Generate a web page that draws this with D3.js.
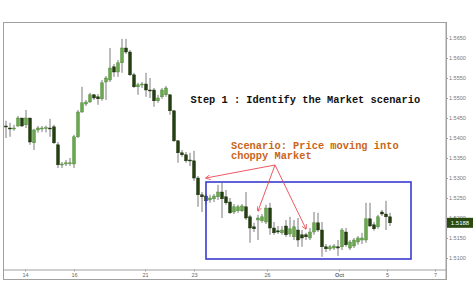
<!DOCTYPE html>
<html>
<head>
<meta charset="utf-8">
<script src="https://cdn.jsdelivr.net/npm/d3@7"></script>
<style>
  body { margin: 0; background: #fff; }
</style>
</head>
<body>
<div id="chart"></div>
<script>
const width = 474;
const height = 284;

// 4h candles
const opens = [1.5430,1.5425,1.5423,1.5430,1.5450,1.5433,1.5450,1.5388,1.5420,1.5423,1.5424,1.5425,1.5428,1.5383,1.5333,1.5335,1.5336,1.5335,1.5403,1.5465,
  1.5485,1.5490,1.5508,1.5503,1.5498,1.5540,1.5545,1.5578,1.5565,1.5588,1.5625,1.5615,1.5558,1.5528,1.5533,1.5535,1.5520,1.5520,1.5493,1.5503,
  1.5508,1.5508,1.5468,1.5393,1.5363,1.5358,1.5345,1.5343,1.5300,1.5258,1.5255,1.5245,1.5248,1.5253,1.5265,1.5253,1.5240,1.5215,1.5218,1.5218,
  1.5228,1.5203,1.5178,1.5195,1.5193,1.5190,1.5225,1.5175,1.5168,1.5163,1.5180,1.5160,1.5153,1.5170,1.5158,1.5158,1.5150,1.5165,1.5188,1.5170,
  1.5128,1.5123,1.5125,1.5128,1.5128,1.5165,1.5125,1.5130,1.5140,1.5145,1.5145,1.5198,1.5183,1.5178,1.5215,1.5210,1.5203];
const highs = [1.5443,1.5438,1.5433,1.5455,1.5448,1.5470,1.5448,1.5423,1.5430,1.5430,1.5431,1.5448,1.5433,1.5390,1.5340,1.5345,1.5350,1.5408,1.5470,1.5528,
  1.5495,1.5513,1.5510,1.5510,1.5545,1.5555,1.5625,1.5585,1.5595,1.5648,1.5648,1.5620,1.5563,1.5538,1.5540,1.5563,1.5550,1.5525,1.5508,1.5525,
  1.5530,1.5510,1.5470,1.5395,1.5370,1.5365,1.5363,1.5368,1.5305,1.5265,1.5260,1.5258,1.5260,1.5283,1.5288,1.5270,1.5250,1.5235,1.5233,1.5235,
  1.5265,1.5208,1.5188,1.5208,1.5210,1.5233,1.5238,1.5190,1.5180,1.5180,1.5195,1.5203,1.5195,1.5200,1.5170,1.5163,1.5175,1.5215,1.5213,1.5190,
  1.5135,1.5133,1.5135,1.5145,1.5175,1.5175,1.5145,1.5150,1.5155,1.5163,1.5238,1.5238,1.5190,1.5208,1.5220,1.5243,1.5213];
const lows = [1.5400,1.5403,1.5418,1.5428,1.5428,1.5425,1.5383,1.5370,1.5413,1.5415,1.5414,1.5403,1.5385,1.5325,1.5325,1.5330,1.5330,1.5325,1.5400,1.5463,
  1.5480,1.5488,1.5495,1.5483,1.5493,1.5495,1.5540,1.5553,1.5553,1.5563,1.5610,1.5555,1.5525,1.5508,1.5525,1.5503,1.5500,1.5478,1.5488,1.5498,
  1.5503,1.5458,1.5390,1.5338,1.5353,1.5338,1.5330,1.5293,1.5228,1.5215,1.5235,1.5238,1.5240,1.5245,1.5200,1.5233,1.5210,1.5210,1.5213,1.5215,
  1.5195,1.5138,1.5165,1.5145,1.5188,1.5185,1.5158,1.5158,1.5160,1.5158,1.5153,1.5153,1.5145,1.5128,1.5128,1.5145,1.5145,1.5158,1.5165,1.5103,
  1.5115,1.5118,1.5120,1.5105,1.5120,1.5128,1.5120,1.5125,1.5133,1.5135,1.5138,1.5178,1.5168,1.5173,1.5205,1.5170,1.5180];
const closes = [1.5428,1.5423,1.5425,1.5450,1.5430,1.5450,1.5390,1.5420,1.5425,1.5425,1.5426,1.5423,1.5388,1.5333,1.5335,1.5338,1.5338,1.5403,1.5465,1.5488,
  1.5490,1.5508,1.5500,1.5498,1.5538,1.5550,1.5575,1.5565,1.5588,1.5625,1.5615,1.5558,1.5528,1.5533,1.5535,1.5520,1.5518,1.5493,1.5500,1.5520,
  1.5525,1.5468,1.5393,1.5363,1.5358,1.5343,1.5343,1.5300,1.5258,1.5253,1.5243,1.5250,1.5255,1.5265,1.5248,1.5238,1.5213,1.5228,1.5228,1.5230,
  1.5200,1.5175,1.5173,1.5200,1.5203,1.5225,1.5175,1.5163,1.5165,1.5170,1.5158,1.5173,1.5178,1.5145,1.5150,1.5153,1.5165,1.5188,1.5170,1.5128,
  1.5123,1.5128,1.5130,1.5125,1.5170,1.5133,1.5140,1.5145,1.5150,1.5150,1.5198,1.5180,1.5173,1.5203,1.5210,1.5203,1.5188];

// x axis: candle index where each day label sits
const dayTicks = [4.75, 17, 34.75, 47, 65.25, 83.25, 95.25, 107.25];
const dayLabels = ["14", "16", "21", "23", "26", "Oct", "5", "7"];
const priceTicks = [1.5100, 1.5150, 1.5200, 1.5250, 1.5300, 1.5350, 1.5400, 1.5450, 1.5500, 1.5550, 1.5600, 1.5650];
const lastPrice = 1.5188;

// annotations (candle index, price)
const boxIdx = [50, 101.25];
const boxPrice = [1.5290, 1.50975];
const arrowFrom = [67.25, 1.53325];
const arrowTo = [[50, 1.5300], [63, 1.52175], [75, 1.51725]];
const scenarioLines = ["Scenario: Price moving into", "choppy Market"];

const candles = opens.map((o, i) => ({ i: i, o: o, h: highs[i], l: lows[i], c: closes[i] }));

const svg = d3.select("#chart")
    .append("svg")
    .attr("width", width)
    .attr("height", height)
    .style("font-family", "'Liberation Sans', Arial, sans-serif");

const x = d3.scaleLinear().domain([-0.75, 110]).range([3, 446]);
const y = d3.scaleLinear().domain([1.50725, 1.5690]).range([269, 22]);

// frame
svg.append("rect")
    .attr("x", 3.5).attr("y", 22.5)
    .attr("width", 442.5).attr("height", 257)
    .attr("fill", "#fff")
    .attr("stroke", "#a0a0a0");

// x axis
const xAxis = svg.append("g")
    .attr("transform", "translate(0,269.5)")
    .call(d3.axisBottom(x).tickValues(dayTicks).tickFormat((d, i) => dayLabels[i]).tickSize(2).tickPadding(1.5));
xAxis.select(".domain").attr("stroke", "#a0a0a0");
xAxis.selectAll(".tick line").attr("stroke", "#a0a0a0");
xAxis.selectAll("text")
    .attr("font-size", 5.5)
    .attr("fill", "#666")
    .attr("font-family", "'Liberation Sans', Arial, sans-serif")
    .attr("font-weight", d => d === 83.25 ? "bold" : "normal");

// y axis on the right
const yAxis = svg.append("g")
    .attr("transform", "translate(446,0)")
    .call(d3.axisRight(y).tickValues(priceTicks).tickFormat(d3.format(".4f")).tickSize(2).tickPadding(1));
yAxis.select(".domain").attr("stroke", "#a0a0a0").attr("d", "M0.5,22V280");
yAxis.selectAll(".tick line").attr("stroke", "#a0a0a0");
yAxis.selectAll("text")
    .attr("font-size", 5.5)
    .attr("fill", "#777")
    .attr("font-family", "'Liberation Sans', Arial, sans-serif");

// candles
const g = svg.append("g");
g.selectAll(".wick")
    .data(candles)
    .enter()
    .append("line")
    .attr("class", "wick")
    .attr("x1", d => x(d.i)).attr("x2", d => x(d.i))
    .attr("y1", d => y(d.h)).attr("y2", d => y(d.l))
    .attr("stroke", "#7a7a7a")
    .attr("stroke-width", 1);

g.selectAll(".body")
    .data(candles)
    .enter()
    .append("rect")
    .attr("class", "body")
    .attr("x", d => x(d.i) - 1.5)
    .attr("width", 3)
    .attr("y", d => y(Math.max(d.o, d.c)))
    .attr("height", d => Math.max(1, Math.abs(y(d.o) - y(d.c))))
    .attr("fill", d => d.c >= d.o ? "#6aa84f" : "#233f10")
    .attr("stroke", d => d.c >= d.o ? "#4b8433" : "#1a300b")
    .attr("stroke-width", 0.4);

// last price tag
svg.append("rect")
    .attr("x", 447).attr("y", y(lastPrice) - 5)
    .attr("width", 26).attr("height", 10)
    .attr("fill", "#2a4a12");
svg.append("text")
    .attr("x", 460).attr("y", y(lastPrice) + 2)
    .attr("text-anchor", "middle")
    .attr("font-size", 6)
    .attr("fill", "#fff")
    .text(lastPrice.toFixed(4));

// scenario box
svg.append("rect")
    .attr("x", x(boxIdx[0])).attr("y", y(boxPrice[0]))
    .attr("width", x(boxIdx[1]) - x(boxIdx[0]))
    .attr("height", y(boxPrice[1]) - y(boxPrice[0]))
    .attr("fill", "none")
    .attr("stroke", "#3a3ad0")
    .attr("stroke-width", 1.6);

// arrows
svg.append("defs").append("marker")
    .attr("id", "head")
    .attr("viewBox", "0 0 8 8")
    .attr("refX", 7).attr("refY", 4)
    .attr("markerWidth", 5).attr("markerHeight", 5)
    .attr("markerUnits", "userSpaceOnUse")
    .attr("orient", "auto")
    .append("path")
    .attr("d", "M0,0L8,4L0,8")
    .attr("fill", "none")
    .attr("stroke", "#ea4650")
    .attr("stroke-width", 1.2);

svg.selectAll(".arrow")
    .data(arrowTo)
    .enter()
    .append("line")
    .attr("class", "arrow")
    .attr("x1", x(arrowFrom[0])).attr("y1", y(arrowFrom[1]))
    .attr("x2", d => x(d[0])).attr("y2", d => y(d[1]))
    .attr("stroke", "#ea4650")
    .attr("stroke-width", 0.9)
    .attr("marker-end", "url(#head)");

// texts
const mono = "'Liberation Mono', 'Courier New', monospace";
svg.append("text")
    .attr("x", 190.5).attr("y", 103)
    .attr("font-family", mono)
    .attr("font-weight", "bold")
    .attr("font-size", 10.35)
    .attr("fill", "#111")
    .text("Step 1 : Identify the Market scenario");

svg.append("text")
    .attr("x", 231).attr("y", 148.5)
    .attr("font-family", mono)
    .attr("font-weight", "bold")
    .attr("font-size", 10.35)
    .attr("fill", "#c9661c")
    .selectAll("tspan")
    .data(scenarioLines)
    .enter()
    .append("tspan")
    .attr("x", 231)
    .attr("dy", (d, i) => i === 0 ? 0 : 10)
    .text(d => d);
</script>
</body>
</html>
